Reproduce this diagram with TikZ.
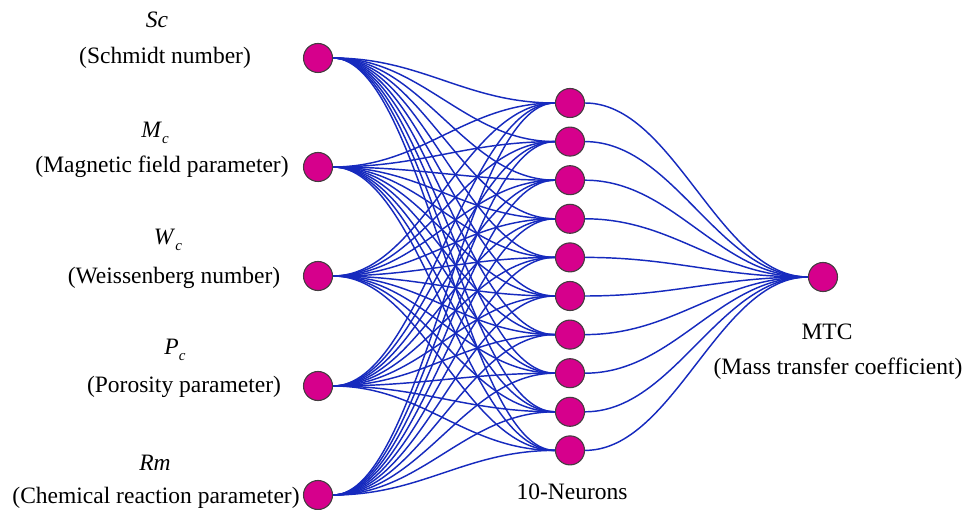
\documentclass[tikz,border=0pt]{standalone}
\usepackage{fontspec}
\setmainfont{Liberation Serif}
\usetikzlibrary{backgrounds}
\definecolor{neuron}{RGB}{214,0,140}
\definecolor{neurondraw}{RGB}{70,60,65}
\definecolor{wire}{RGB}{22,42,190}
\newcommand{\lowsub}[1]{\raisebox{-0.55ex}{\fontsize{15}{15}\selectfont\textit{#1}}}
\tikzset{
  neuronnode/.style={circle,fill=neuron,draw=neurondraw,line width=1.1pt,minimum size=29pt,inner sep=0pt},
  lbl/.style={font=\fontsize{23.5}{26}\selectfont,inner sep=0pt,anchor=center},
  wireline/.style={draw=wire,line width=1.45pt}
}
\begin{document}
\begin{tikzpicture}[x=1pt,y=-1pt]
\useasboundingbox (0,0) rectangle (969,510);
% input nodes
\node[neuronnode] (i1) at (318,58) {};
\node[neuronnode] (i2) at (318,167) {};
\node[neuronnode] (i3) at (318,276) {};
\node[neuronnode] (i4) at (318,386) {};
\node[neuronnode] (i5) at (318,495) {};
% hidden nodes
\foreach \j in {1,...,10}{
  \node[neuronnode] (h\j) at (570,{103+38.6*(\j-1)}) {};
}
% output node
\node[neuronnode] (o) at (823,277) {};
% labels
\node[lbl] (l1a) at (157,20) {\textit{Sc}};
\node[lbl] (l1b) at (165,58) {(Schmidt number)};
\node[lbl] (l2a) at (155,133) {\textit{M}\lowsub{c}};
\node[lbl] (l2b) at (162,167) {(Magnetic field parameter)};
\node[lbl] (l3a) at (168,240) {\textit{W}\lowsub{c}};
\node[lbl] (l3b) at (174,278) {(Weissenberg number)};
\node[lbl] (l4a) at (175,350) {\textit{P}\lowsub{c}};
\node[lbl] (l4b) at (184,387) {(Porosity parameter)};
\node[lbl] (l5a) at (155,463) {\textit{Rm}};
\node[lbl] (l5b) at (156,498) {(Chemical reaction parameter)};
\node[lbl] (lh) at (572,492) {10-Neurons};
\node[lbl] (loa) at (827,332) {MTC};
\node[lbl] (lob) at (838,369) {(Mass transfer coefficient)};
% connections
\begin{scope}[on background layer]
\fill[white] (0,0) rectangle (969,510);
\foreach \i in {1,...,5}{
  \foreach \j in {1,...,10}{
    \draw[wireline] (i\i.east) .. controls +(89,0) and +(-89,0) .. (h\j.west);
  }
}
\foreach \j in {1,...,10}{
  \draw[wireline] (h\j.east) .. controls +(89,0) and +(-89,0) .. (o.west);
}
\end{scope}
\end{tikzpicture}
\end{document}
